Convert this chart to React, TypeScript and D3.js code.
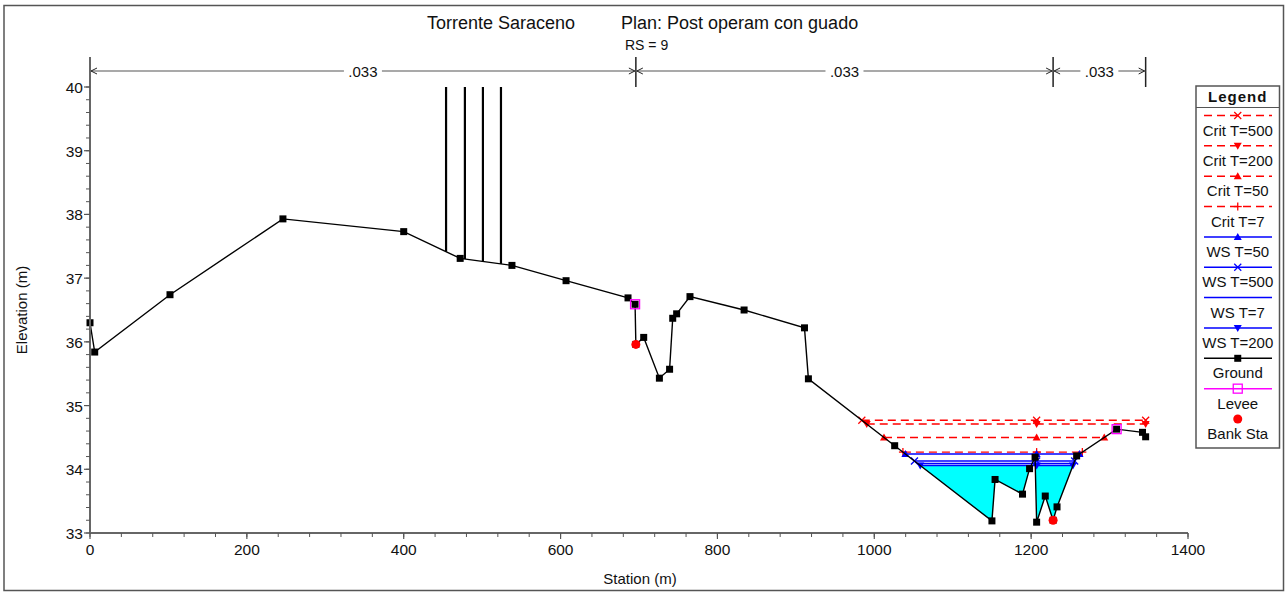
import React from "react";
import * as d3 from "d3";

// ---------- DATA ----------
const groundSta = [0, 6, 102, 246, 400, 472, 538, 607, 686, 695, 696, 706, 726, 739, 743, 748, 765, 834, 911, 916, 1026, 1150, 1154, 1189, 1198, 1205, 1207, 1218, 1228, 1233, 1258, 1309, 1342, 1346];
const groundElev = [36.30, 35.84, 36.74, 37.93, 37.73, 37.31, 37.20, 36.96, 36.69, 36.59, 35.96, 36.07, 35.43, 35.57, 36.37, 36.44, 36.71, 36.50, 36.22, 35.42, 34.37, 33.19, 33.84, 33.61, 34.01, 34.19, 33.17, 33.58, 33.20, 33.41, 34.21, 34.63, 34.58, 34.51];

const leveeSta = [695, 1309];
const leveeElev = [36.59, 34.63];
const bankSta = [696, 1228];
const bankElev = [35.96, 33.20];

const obstructionSta = [454, 478, 501, 524];
const obstructionTop = 40;

const nBoundSta = [0, 696, 1228, 1346];
const nValues = [".033", ".033", ".033"];

const profileNames = ["Crit T=500", "Crit T=200", "Crit T=50", "Crit T=7", "WS T=50", "WS T=500", "WS T=7", "WS T=200"];
const profileElev = [34.77, 34.71, 34.50, 34.27, 34.24, 34.13, 34.09, 34.06];
const profileMidMarkerSta = 1207;
const fillProfileIndex = 7;

const xTicks = [0, 200, 400, 600, 800, 1000, 1200, 1400];
const yTicks = [33, 34, 35, 36, 37, 38, 39, 40];

const titleLeft = "Torrente Saraceno";
const titleRight = "Plan: Post operam con guado";
const subTitle = "RS = 9";
const xTitle = "Station (m)";
const yTitle = "Elevation (m)";

// ---------- STYLES ----------
type MarkerKind = "x" | "triDown" | "triUp" | "plus" | "none" | "square" | "openSquare" | "circle";
const profileStyle: { color: string; dashed: boolean; marker: MarkerKind }[] = [
  { color: "#ff0000", dashed: true, marker: "x" },
  { color: "#ff0000", dashed: true, marker: "triDown" },
  { color: "#ff0000", dashed: true, marker: "triUp" },
  { color: "#ff0000", dashed: true, marker: "plus" },
  { color: "#0000ff", dashed: false, marker: "triUp" },
  { color: "#0000ff", dashed: false, marker: "x" },
  { color: "#0000ff", dashed: false, marker: "none" },
  { color: "#0000ff", dashed: false, marker: "triDown" },
];

const FONT = "'Liberation Sans', Arial, Helvetica, sans-serif";
const W = 1286, H = 592;
const x = d3.scaleLinear().domain([0, 1400]).range([90, 1188]);
const y = d3.scaleLinear().domain([33, 40]).range([533, 87]);

function groundAt(s: number): number {
  for (let i = 0; i < groundSta.length - 1; i++) {
    if (s >= groundSta[i] && s <= groundSta[i + 1]) {
      const t = (s - groundSta[i]) / (groundSta[i + 1] - groundSta[i] || 1);
      return groundElev[i] + t * (groundElev[i + 1] - groundElev[i]);
    }
  }
  return groundElev[groundElev.length - 1];
}

function leftEdge(level: number): number {
  for (let i = 0; i < groundSta.length - 1; i++) {
    const a = groundElev[i], b = groundElev[i + 1];
    if (a >= level && b < level) {
      return groundSta[i] + ((a - level) / (a - b)) * (groundSta[i + 1] - groundSta[i]);
    }
  }
  return groundSta[0];
}
function rightEdge(level: number): number {
  const n = groundSta.length;
  if (groundElev[n - 1] < level) return groundSta[n - 1];
  for (let i = n - 1; i > 0; i--) {
    const a = groundElev[i], b = groundElev[i - 1];
    if (a >= level && b < level) {
      return groundSta[i] - ((a - level) / (a - b)) * (groundSta[i] - groundSta[i - 1]);
    }
  }
  return groundSta[n - 1];
}

function Marker({ kind, cx, cy, color }: { kind: MarkerKind; cx: number; cy: number; color: string }) {
  switch (kind) {
    case "x":
      return (
        <g stroke={color} strokeWidth={1.3}>
          <line x1={cx - 3.5} y1={cy - 3.5} x2={cx + 3.5} y2={cy + 3.5} />
          <line x1={cx - 3.5} y1={cy + 3.5} x2={cx + 3.5} y2={cy - 3.5} />
        </g>
      );
    case "plus":
      return (
        <g stroke={color} strokeWidth={1.3}>
          <line x1={cx - 4} y1={cy} x2={cx + 4} y2={cy} />
          <line x1={cx} y1={cy - 4} x2={cx} y2={cy + 4} />
        </g>
      );
    case "triDown":
      return <path d={`M${cx - 4},${cy - 3}L${cx + 4},${cy - 3}L${cx},${cy + 4}Z`} fill={color} />;
    case "triUp":
      return <path d={`M${cx - 4},${cy + 3}L${cx + 4},${cy + 3}L${cx},${cy - 4}Z`} fill={color} />;
    case "square":
      return <rect x={cx - 3.5} y={cy - 3.5} width={7} height={7} fill={color} />;
    case "openSquare":
      return <rect x={cx - 4.5} y={cy - 4.5} width={9} height={9} fill="none" stroke={color} strokeWidth={1.3} />;
    case "circle":
      return <circle cx={cx} cy={cy} r={4.5} fill={color} />;
    default:
      return null;
  }
}

export default function App() {
  // Ground line
  const groundPts: [number, number][] = groundSta.map((s, i) => [s, groundElev[i]]);
  const lineGen = d3.line<[number, number]>().x((d) => x(d[0])).y((d) => y(d[1]));

  // Fill area (water below fill profile)
  const fillLevel = profileElev[fillProfileIndex];
  const dense: { s: number; g: number }[] = [];
  for (let i = 0; i < groundSta.length; i++) {
    dense.push({ s: groundSta[i], g: groundElev[i] });
    if (i < groundSta.length - 1) {
      const a = groundElev[i], b = groundElev[i + 1];
      if ((a - fillLevel) * (b - fillLevel) < 0) {
        const t = (fillLevel - a) / (b - a);
        dense.push({ s: groundSta[i] + t * (groundSta[i + 1] - groundSta[i]), g: fillLevel });
      }
    }
  }
  const areaGen = d3
    .area<{ s: number; g: number }>()
    .defined((d) => d.g <= fillLevel + 1e-9)
    .x((d) => x(d.s))
    .y0((d) => y(d.g))
    .y1(() => y(fillLevel));

  // Dimension line
  const dimY = 71;

  // Legend entries
  const legendEntries = [
    ...profileNames.map((name, i) => ({ name, color: profileStyle[i].color, dashed: profileStyle[i].dashed, marker: profileStyle[i].marker, line: true })),
    { name: "Ground", color: "#000000", dashed: false, marker: "square" as MarkerKind, line: true },
    { name: "Levee", color: "#ff00ff", dashed: false, marker: "openSquare" as MarkerKind, line: true },
    { name: "Bank Sta", color: "#ff0000", dashed: false, marker: "circle" as MarkerKind, line: false },
  ];
  const legX0 = 1196, legX1 = 1279.5, legTop = 86, legStep = 30.35, legSample0 = 115.5;
  const legBottom = legSample0 + legStep * (legendEntries.length - 1) + 29;
  const legMid = (legX0 + legX1) / 2;

  const yMinor = d3.range(33, 40.001, 0.2);
  const xMinor = d3.range(0, 1400.001, 40);

  return (
    <svg width={W} height={H} style={{ position: "absolute", left: 0, top: 0, background: "#fff" }} fontFamily={FONT}>
      <rect x={0} y={0} width={W} height={H} fill="#fff" />
      <rect x={4} y={5.5} width={1279.5} height={585} fill="none" stroke="#555" strokeWidth={1.5} />

      {/* Titles */}
      <text x={427} y={29} fontSize={18} fill="#111">{titleLeft}</text>
      <text x={621} y={29} fontSize={18} fill="#111">{titleRight}</text>
      <text x={625} y={50} fontSize={14} fill="#111">{subTitle}</text>

      {/* Dimension line of Manning n */}
      {nBoundSta.map((s, i) => (
        <line key={"nb" + i} x1={x(s)} x2={x(s)} y1={57} y2={y(40)} stroke="#222" strokeWidth={1.5} />
      ))}
      {nValues.map((v, i) => {
        const x1 = x(nBoundSta[i]);
        const x2 = x(nBoundSta[i + 1]);
        const mid = (x1 + x2) / 2;
        return (
          <g key={"nv" + i}>
            <line x1={x1} x2={x2} y1={dimY} y2={dimY} stroke="#555" strokeWidth={1.2} />
            <path d={`M${x1 + 7},${dimY - 3}L${x1 + 1},${dimY}L${x1 + 7},${dimY + 3}`} fill="none" stroke="#222" strokeWidth={1} />
            <path d={`M${x2 - 7},${dimY - 3}L${x2 - 1},${dimY}L${x2 - 7},${dimY + 3}`} fill="none" stroke="#222" strokeWidth={1} />
            <rect x={mid - 19} y={dimY - 8} width={38} height={16} fill="#fff" />
            <text x={mid} y={dimY + 5.5} fontSize={15} textAnchor="middle" fill="#111">{v}</text>
          </g>
        );
      })}

      {/* Water fill */}
      <path d={areaGen(dense) || ""} fill="#00ffff" stroke="none" />

      {/* Obstructions */}
      {obstructionSta.map((s, i) => (
        <line key={"ob" + i} x1={x(s)} x2={x(s)} y1={y(obstructionTop)} y2={y(groundAt(s))} stroke="#000" strokeWidth={2.2} />
      ))}

      {/* Profiles */}
      {profileElev.map((lev, i) => {
        const st = profileStyle[i];
        const l = leftEdge(lev), r = rightEdge(lev);
        const yy = y(lev);
        const mk = [l, profileMidMarkerSta, r];
        return (
          <g key={"pr" + i}>
            <line x1={x(l)} x2={x(r)} y1={yy} y2={yy} stroke={st.color} strokeWidth={st.dashed ? 1.4 : 1.6} strokeDasharray={st.dashed ? "8,5" : undefined} />
            {mk.map((s, j) => <Marker key={j} kind={st.marker} cx={x(s)} cy={yy} color={st.color} />)}
          </g>
        );
      })}

      {/* Ground */}
      <path d={lineGen(groundPts) || ""} fill="none" stroke="#000" strokeWidth={1.4} />
      {groundPts.map((p, i) => <Marker key={"g" + i} kind="square" cx={x(p[0])} cy={y(p[1])} color="#000" />)}
      {leveeSta.map((s, i) => <Marker key={"lv" + i} kind="openSquare" cx={x(s)} cy={y(leveeElev[i])} color="#ff00ff" />)}
      {bankSta.map((s, i) => <Marker key={"bk" + i} kind="circle" cx={x(s)} cy={y(bankElev[i])} color="#ff0000" />)}

      {/* Axes */}
      <line x1={x(0)} x2={x(0)} y1={57} y2={y(33)} stroke="#666" strokeWidth={2} />
      <line x1={x(0)} x2={x(1400)} y1={y(33)} y2={y(33)} stroke="#666" strokeWidth={2} />
      {yMinor.map((v, i) => (
        <line key={"ym" + i} x1={x(0) - 4} x2={x(0)} y1={y(v)} y2={y(v)} stroke="#555" strokeWidth={1} />
      ))}
      {yTicks.map((v) => (
        <g key={"yt" + v}>
          <line x1={x(0) - 6} x2={x(0)} y1={y(v)} y2={y(v)} stroke="#555" strokeWidth={1.2} />
          <text x={x(0) - 7} y={y(v) + 6} fontSize={15.5} textAnchor="end" fill="#111">{v}</text>
        </g>
      ))}
      {xMinor.map((v, i) => (
        <line key={"xm" + i} x1={x(v)} x2={x(v)} y1={y(33)} y2={y(33) + 4} stroke="#555" strokeWidth={1} />
      ))}
      {xTicks.map((v) => (
        <g key={"xt" + v}>
          <line x1={x(v)} x2={x(v)} y1={y(33)} y2={y(33) + 6} stroke="#555" strokeWidth={1.2} />
          <text x={x(v)} y={y(33) + 22} fontSize={15.5} textAnchor="middle" fill="#111">{v}</text>
        </g>
      ))}
      <text x={640} y={584} fontSize={15} textAnchor="middle" fill="#111">{xTitle}</text>
      <text transform={`translate(27,${310}) rotate(-90)`} fontSize={15} textAnchor="middle" fill="#111">{yTitle}</text>

      {/* Legend */}
      <rect x={legX0} y={legTop} width={legX1 - legX0} height={legBottom - legTop} fill="#fff" stroke="#555" strokeWidth={1.5} />
      <text x={legMid} y={101.5} fontSize={15} fontWeight="bold" textAnchor="middle" letterSpacing={1} fill="#111">Legend</text>
      <line x1={legX0} x2={legX1} y1={107.5} y2={107.5} stroke="#555" strokeWidth={1.2} />
      {legendEntries.map((e, i) => {
        const sy = legSample0 + i * legStep;
        return (
          <g key={"lg" + i}>
            {e.line && (
              <line x1={1204} x2={1272} y1={sy} y2={sy} stroke={e.color} strokeWidth={1.5} strokeDasharray={e.dashed ? "8,5" : undefined} />
            )}
            <Marker kind={e.marker} cx={legMid} cy={sy} color={e.color} />
            <text x={legMid} y={sy + 20} fontSize={15} textAnchor="middle" fill="#111">{e.name}</text>
          </g>
        );
      })}
    </svg>
  );
}
